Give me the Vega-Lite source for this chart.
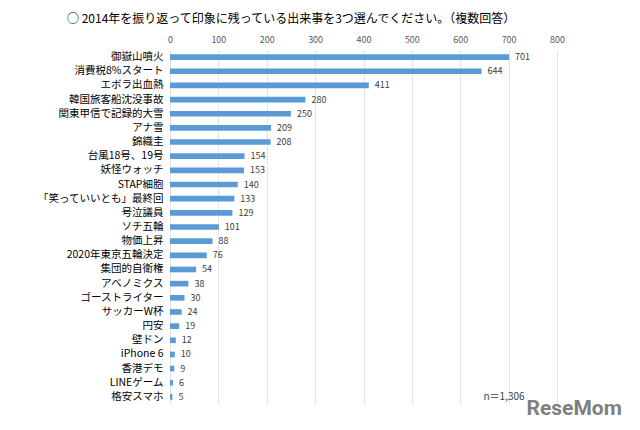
{
  "$schema": "https://vega.github.io/schema/vega-lite/v6.json",
  "width": 387,
  "height": 354,
  "autosize": "none",
  "padding": {"left": 170, "top": 50, "right": 83, "bottom": 26},
  "background": "white",
  "config": {
    "view": {"stroke": null},
    "font": "Noto Sans CJK JP"
  },
  "title": {
    "text": "○ 2014年を振り返って印象に残っている出来事を3つ選んでください。（複数回答）",
    "anchor": "start",
    "frame": "bounds",
    "dx": 30,
    "offset": 9,
    "fontSize": 12,
    "fontWeight": "normal",
    "color": "#000000",
    "font": "Noto Sans CJK JP"
  },
  "data": {
    "values": [
      {"event": "御嶽山噴火", "count": 701},
      {"event": "消費税8%スタート", "count": 644},
      {"event": "エボラ出血熱", "count": 411},
      {"event": "韓国旅客船沈没事故", "count": 280},
      {"event": "関東甲信で記録的大雪", "count": 250},
      {"event": "アナ雪", "count": 209},
      {"event": "錦織圭", "count": 208},
      {"event": "台風18号、19号", "count": 154},
      {"event": "妖怪ウォッチ", "count": 153},
      {"event": "STAP細胞", "count": 140},
      {"event": "「笑っていいとも」最終回", "count": 133},
      {"event": "号泣議員", "count": 129},
      {"event": "ソチ五輪", "count": 101},
      {"event": "物価上昇", "count": 88},
      {"event": "2020年東京五輪決定", "count": 76},
      {"event": "集団的自衛権", "count": 54},
      {"event": "アベノミクス", "count": 38},
      {"event": "ゴーストライター", "count": 30},
      {"event": "サッカーW杯", "count": 24},
      {"event": "円安", "count": 19},
      {"event": "壁ドン", "count": 12},
      {"event": "iPhone 6", "count": 10},
      {"event": "香港デモ", "count": 9},
      {"event": "LINEゲーム", "count": 6},
      {"event": "格安スマホ", "count": 5}
    ]
  },
  "encoding": {
    "y": {
      "field": "event",
      "type": "nominal",
      "sort": null,
      "scale": {"paddingInner": 0.6, "paddingOuter": 0.3},
      "axis": {
        "title": null,
        "ticks": false,
        "domain": false,
        "labelPadding": 7,
        "labelFontSize": 10.5,
        "labelColor": "#000000",
        "labelFont": "Noto Sans CJK JP"
      }
    },
    "x": {
      "field": "count",
      "type": "quantitative",
      "scale": {"domain": [0, 800], "nice": false},
      "axis": {
        "orient": "top",
        "values": [0, 100, 200, 300, 400, 500, 600, 700, 800],
        "title": null,
        "ticks": false,
        "domain": false,
        "grid": true,
        "gridColor": "#e4e4e4",
        "labelFontSize": 9,
        "labelColor": "#595959",
        "labelPadding": 6,
        "labelFlush": false
      }
    }
  },
  "layer": [
    {
      "mark": {"type": "bar", "color": "#5B9BD5"}
    },
    {
      "mark": {"type": "text", "align": "left", "dx": 6, "fontSize": 9, "color": "#404040"},
      "encoding": {"text": {"field": "count", "type": "quantitative"}}
    },
    {
      "data": {"values": [{"note": "n＝1,306", "xv": 733, "row": "格安スマホ"}]},
      "mark": {"type": "text", "align": "right", "fontSize": 10, "color": "#404040"},
      "encoding": {
        "x": {"field": "xv", "type": "quantitative"},
        "y": {"field": "row", "type": "nominal"},
        "text": {"field": "note"}
      }
    },
    {
      "data": {"values": [{"logo": "ReseMom", "xv": 737, "row": "格安スマホ"}]},
      "mark": {"type": "text", "align": "left", "baseline": "middle", "dy": 12, "fontSize": 21, "fontWeight": "bold", "color": "#7f7f7f", "font": "Roboto", "clip": false},
      "encoding": {
        "x": {"field": "xv", "type": "quantitative"},
        "y": {"field": "row", "type": "nominal"},
        "text": {"field": "logo"}
      }
    }
  ]
}
